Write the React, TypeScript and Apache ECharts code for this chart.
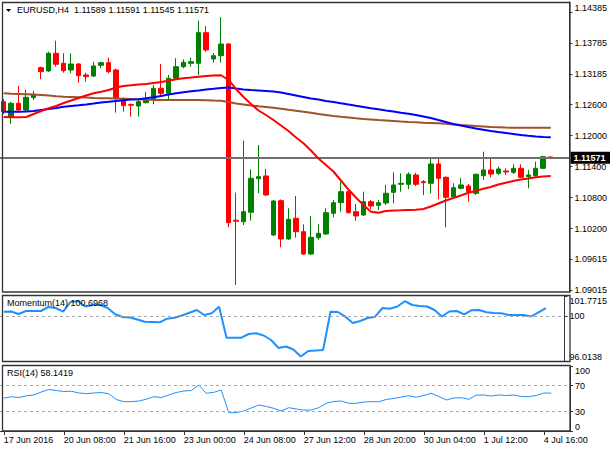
import React, { useEffect, useRef } from "react";
import * as echarts from "echarts";

const symbolName = "EURUSD";
const timeframe = "H4";
const firstTickLabel = "17 Jun 2016";

const categories = [
  "17 Jun 00:00", "17 Jun 04:00", "17 Jun 08:00", "17 Jun 12:00", "17 Jun 16:00", "17 Jun 20:00",
  "20 Jun 00:00", "20 Jun 04:00", "20 Jun 08:00", "20 Jun 12:00", "20 Jun 16:00", "20 Jun 20:00",
  "21 Jun 00:00", "21 Jun 04:00", "21 Jun 08:00", "21 Jun 12:00", "21 Jun 16:00", "21 Jun 20:00",
  "22 Jun 00:00", "22 Jun 04:00", "22 Jun 08:00", "22 Jun 12:00", "22 Jun 16:00", "22 Jun 20:00",
  "23 Jun 00:00", "23 Jun 04:00", "23 Jun 08:00", "23 Jun 12:00", "23 Jun 16:00", "23 Jun 20:00",
  "24 Jun 00:00", "24 Jun 04:00", "24 Jun 08:00", "24 Jun 12:00", "24 Jun 16:00", "24 Jun 20:00",
  "26 Jun 20:00",
  "27 Jun 00:00", "27 Jun 04:00", "27 Jun 08:00", "27 Jun 12:00", "27 Jun 16:00", "27 Jun 20:00",
  "28 Jun 00:00", "28 Jun 04:00", "28 Jun 08:00", "28 Jun 12:00", "28 Jun 16:00", "28 Jun 20:00",
  "29 Jun 00:00", "29 Jun 04:00", "29 Jun 08:00", "29 Jun 12:00", "29 Jun 16:00", "29 Jun 20:00",
  "30 Jun 00:00", "30 Jun 04:00", "30 Jun 08:00", "30 Jun 12:00", "30 Jun 16:00", "30 Jun 20:00",
  "1 Jul 00:00", "1 Jul 04:00", "1 Jul 08:00", "1 Jul 12:00", "1 Jul 16:00", "1 Jul 20:00",
  "3 Jul 20:00",
  "4 Jul 00:00", "4 Jul 04:00", "4 Jul 08:00", "4 Jul 12:00", "4 Jul 16:00", "4 Jul 20:00",
];
// empty slots to the right of the last bar (chart shift)
const rightShiftSlots = ["", ""];

const opens = [
  1.12656, 1.12355, 1.12625, 1.12496, 1.12734, 1.13314, 1.1325, 1.13592, 1.13399, 1.13269,
  1.13385, 1.13173, 1.13153, 1.1336, 1.13411, 1.13269, 1.12703, 1.126, 1.12573, 1.12637,
  1.12703, 1.12915, 1.12819, 1.13109, 1.13333, 1.13399, 1.13399, 1.13991, 1.13482, 1.13546,
  1.13772, 1.10365, 1.10336, 1.10518, 1.11167, 1.1122, 1.10079, 1.10742, 1.10001, 1.10402,
  1.10142, 1.09711, 1.10026, 1.10098, 1.10498, 1.10703, 1.10916, 1.10529, 1.10465, 1.10723,
  1.10653, 1.10697, 1.10904, 1.11059, 1.11059, 1.11239, 1.11109, 1.11078, 1.11452, 1.11194,
  1.10819, 1.10982, 1.11026, 1.10885, 1.11225, 1.11336, 1.11272, 1.11316, 1.11291, 1.11368,
  1.11206, 1.11225, 1.11368, 1.11589,
];
const highs = [
  1.12709, 1.12651, 1.1296, 1.12883, 1.12863, 1.13333, 1.13623, 1.13836, 1.13592, 1.13592,
  1.13405, 1.13217, 1.1343, 1.1343, 1.13507, 1.13298, 1.12738, 1.12622, 1.12722, 1.12844,
  1.12979, 1.13385, 1.13173, 1.13496, 1.13476, 1.13507, 1.14223, 1.1412, 1.13598, 1.14289,
  1.13782, 1.10897, 1.11902, 1.11349, 1.11819, 1.11355, 1.10755, 1.10765, 1.10595, 1.10833,
  1.10286, 1.10446, 1.10286, 1.10595, 1.10755, 1.11109, 1.10968, 1.10678, 1.10916, 1.10755,
  1.10755, 1.11046, 1.11291, 1.11272, 1.11291, 1.11283, 1.11142, 1.11562, 1.11581, 1.1121,
  1.11078, 1.11175, 1.11065, 1.11268, 1.11689, 1.11562, 1.11399, 1.11368, 1.11446, 1.11446,
  1.11336, 1.11496, 1.11612, 1.11591,
];
const lows = [
  1.12419, 1.12225, 1.12438, 1.12457, 1.12689, 1.1309, 1.13231, 1.13333, 1.13217, 1.13206,
  1.13024, 1.13043, 1.13134, 1.13302, 1.13206, 1.12444, 1.12463, 1.12366, 1.12366, 1.12622,
  1.12606, 1.12767, 1.12689, 1.13076, 1.13302, 1.13333, 1.13173, 1.13623, 1.13411, 1.13411,
  1.10228, 1.09112, 1.10272, 1.10355, 1.10885, 1.10833, 1.10059, 1.09841, 1.09982, 1.10026,
  1.09692, 1.09692, 1.09982, 1.10079, 1.10421, 1.10529, 1.10494, 1.10355, 1.10446, 1.10581,
  1.10562, 1.10659, 1.10692, 1.10916, 1.10962, 1.11026, 1.10852, 1.10885, 1.10769, 1.10228,
  1.10804, 1.10962, 1.10723, 1.10852, 1.11142, 1.11194, 1.11239, 1.11239, 1.11258, 1.11181,
  1.10982, 1.1121, 1.11355, 1.11545,
];
const closes = [
  1.12463, 1.12625, 1.12496, 1.12741, 1.12786, 1.13237, 1.13592, 1.1338, 1.13256, 1.13385,
  1.13159, 1.1314, 1.13347, 1.13411, 1.13237, 1.12722, 1.12579, 1.12589, 1.12656, 1.12709,
  1.12915, 1.12819, 1.13109, 1.13333, 1.13418, 1.1343, 1.13991, 1.13656, 1.13546, 1.13772,
  1.10316, 1.10345, 1.10529, 1.11175, 1.11206, 1.10852, 1.10736, 1.10001, 1.10382, 1.10142,
  1.09711, 1.10034, 1.10111, 1.1051, 1.10703, 1.10916, 1.1051, 1.10446, 1.10723, 1.10639,
  1.10703, 1.10885, 1.11046, 1.11078, 1.11252, 1.11059, 1.1109, 1.11452, 1.11175, 1.10808,
  1.10993, 1.11046, 1.10916, 1.11252, 1.11336, 1.11258, 1.11355, 1.11297, 1.11368, 1.11194,
  1.11239, 1.11368, 1.11593, 1.11571,
];

const maRed = [
  1.1236, 1.12355, 1.12355, 1.1236, 1.12418, 1.12476, 1.12529, 1.12573, 1.12631, 1.12679,
  1.12728, 1.12776, 1.12819, 1.1285, 1.12882, 1.12931, 1.1296, 1.12973, 1.12989, 1.12998,
  1.13018, 1.13037, 1.13062, 1.13089, 1.13109, 1.13124, 1.1314, 1.13153, 1.13163, 1.13167,
  1.13076, 1.12902, 1.12747, 1.12612, 1.12486, 1.12399, 1.12302, 1.12196, 1.1209, 1.11964,
  1.11852, 1.11712, 1.11558, 1.11432, 1.11306, 1.11132, 1.10958, 1.10804, 1.10659, 1.10529,
  1.1051, 1.10543, 1.10552, 1.10556, 1.10562, 1.10568, 1.10581, 1.1063, 1.10688, 1.10746,
  1.10794, 1.10842, 1.10896, 1.10929, 1.10974, 1.11007, 1.11055, 1.1109, 1.11123, 1.11152,
  1.11171, 1.11194, 1.1121, 1.11219,
];
const maBlue = [
  1.12463, 1.12463, 1.12463, 1.12467, 1.12476, 1.12496, 1.12515, 1.12534, 1.12557, 1.12573,
  1.12588, 1.12604, 1.12621, 1.12639, 1.12654, 1.1267, 1.12685, 1.12697, 1.12704, 1.12722,
  1.12741, 1.12766, 1.12795, 1.12819, 1.1284, 1.12859, 1.12873, 1.12892, 1.12906, 1.12921,
  1.12931, 1.12911, 1.12892, 1.12882, 1.12873, 1.12863, 1.12853, 1.12834, 1.12805, 1.12776,
  1.12747, 1.12718, 1.12699, 1.1267, 1.1265, 1.12625, 1.12602, 1.12577, 1.12554, 1.1253,
  1.12509, 1.12486, 1.12467, 1.12443, 1.12422, 1.12399, 1.1237, 1.12341, 1.12302, 1.12264,
  1.12225, 1.12196, 1.12167, 1.12138, 1.12115, 1.1209, 1.1207, 1.12051, 1.12032, 1.12012,
  1.11997, 1.11983, 1.11974, 1.11968,
];
const maBrown = [
  1.12819, 1.12811, 1.12805, 1.12799, 1.12793, 1.12786, 1.12776, 1.12763, 1.12753, 1.12747,
  1.12741, 1.12735, 1.12728, 1.12724, 1.12722, 1.12718, 1.12714, 1.12708, 1.12703, 1.12697,
  1.12689, 1.12689, 1.12689, 1.12689, 1.12689, 1.12689, 1.12689, 1.12685, 1.12679, 1.12674,
  1.1265, 1.12621, 1.12602, 1.12583, 1.12567, 1.12554, 1.12538, 1.12519, 1.125, 1.12482,
  1.12463, 1.12442, 1.12418, 1.12399, 1.1238, 1.12364, 1.12351, 1.12335, 1.12322, 1.12312,
  1.12302, 1.12293, 1.12283, 1.12273, 1.12264, 1.12258, 1.1225, 1.12244, 1.12238, 1.12229,
  1.12217, 1.12206, 1.12196, 1.12186, 1.12177, 1.12167, 1.12161, 1.12155, 1.12153, 1.12153,
  1.12153, 1.12153, 1.12153, 1.12153,
];

const momentum = [
  100.381, 100.399, 100.177, 100.443, 100.443, 100.443, 100.797, 100.709, 100.381, 101.24,
  101.329, 100.842, 100.974, 100.974, 100.709, 100.151, 99.912, 99.867, 99.69, 99.495,
  99.469, 99.442, 99.761, 99.85, 100.044, 100.292, 100.532, 100.089, 100.239, 100.824,
  98.078, 98.078, 98.078, 98.406, 98.468, 98.273, 97.874, 97.166, 97.299, 97.033,
  96.413, 96.9, 96.944, 96.989, 100.381, 100.354, 99.938, 99.38, 99.557, 99.823,
  99.938, 100.709, 100.647, 100.842, 101.311, 100.974, 100.886, 100.842, 100.532, 99.956,
  100.399, 100.443, 100.151, 100.514, 100.532, 100.337, 100.266, 100.239, 100.089, 100.089,
  100.089, 99.956, 100.328, 100.6968,
];
const rsi = [
  50.5, 52.8, 51.5, 54.2, 55.4, 60.0, 63.8, 62.3, 60.8, 61.2,
  58.5, 57.4, 58.5, 59.2, 57.4, 48.5, 45.1, 45.1, 46.2, 48.8,
  52.8, 51.5, 55.4, 59.2, 61.5, 62.3, 70.8, 58.0, 59.5, 63.1,
  28.2, 28.2, 30.8, 35.4, 40.0, 37.7, 34.9, 30.8, 35.9, 33.8,
  32.3, 32.3, 35.9, 42.6, 45.4, 46.2, 42.6, 42.6, 44.6, 45.1,
  45.1, 48.5, 50.0, 52.3, 54.3, 52.0, 54.6, 58.0, 53.1, 47.7,
  50.8, 51.2, 48.8, 55.1, 55.4, 53.8, 55.4, 54.6, 55.4, 53.1,
  52.8, 54.6, 58.5, 58.1419,
];

const priceTicks = [1.14385, 1.13785, 1.13185, 1.126, 1.12, 1.114, 1.108, 1.102, 1.09615, 1.09015];
const momentumTicks = [96.0138, 100, 101.7715];
const momentumLevels = [100];
const rsiTicks = [0, 30, 70, 100];
const rsiLevels = [30, 70];

const FONT = "'Liberation Sans', Arial, sans-serif";

export default function App() {
  const ref = useRef<HTMLDivElement>(null);

  useEffect(() => {
    document.body.style.margin = "0";
    const chart = echarts.init(ref.current!, null, { renderer: "svg" });
    const cats = [...categories, ...rightShiftSlots];
    const last = opens.length - 1;
    const lastClose = closes[last];
    const fmt5 = (v: number) => v.toFixed(5);

    const hiddenX = (gi: number) => ({
      type: "category",
      gridIndex: gi,
      data: cats,
      boundaryGap: true,
      axisLine: { show: false },
      axisTick: { show: false },
      axisLabel: { show: false },
      splitLine: { show: false },
    });

    const rightY = (
      gi: number,
      min: number,
      max: number,
      ticks: number[],
      fmt: (v: number) => string,
      minAlign: string,
      maxAlign: string
    ) => ({
      type: "value",
      gridIndex: gi,
      position: "right",
      min,
      max,
      axisLine: { show: true, lineStyle: { color: "#333", width: 1 } },
      axisTick: { show: true, length: 3, customValues: ticks, lineStyle: { color: "#333" } },
      axisLabel: {
        customValues: ticks,
        formatter: (v: number) => fmt(v),
        fontSize: 9,
        color: "#000",
        margin: 5,
        fontFamily: FONT,
        verticalAlignMinLabel: minAlign,
        verticalAlignMaxLabel: maxAlign,
      },
      splitLine: { show: false },
    });

    const levelLine = (levels: number[]) => ({
      symbol: ["none", "none"],
      silent: true,
      animation: false,
      precision: 4,
      label: { show: false },
      lineStyle: { color: "#a8a8a8", width: 1, type: [3, 3] },
      data: levels.map((v) => ({ yAxis: v })),
    });

    const border = (x: number, y: number, w: number, h: number) => ({
      type: "rect",
      silent: true,
      z: 100,
      shape: { x, y, width: w, height: h },
      style: { fill: "none", stroke: "#333", lineWidth: 1.3 },
    });

    chart.setOption({
      animation: false,
      backgroundColor: "#fff",
      textStyle: { fontFamily: FONT },
      title: [
        {
          text: `${symbolName},${timeframe}  ${fmt5(opens[last])} ${fmt5(highs[last])} ${fmt5(lows[last])} ${fmt5(lastClose)}`,
          left: 17,
          top: 5,
          padding: 0,
          textStyle: { fontSize: 9, fontWeight: "normal", color: "#000", fontFamily: FONT },
        },
        {
          text: `Momentum(14) ${momentum[last].toFixed(4)}`,
          left: 7,
          top: 298,
          padding: 0,
          textStyle: { fontSize: 9, fontWeight: "normal", color: "#000", fontFamily: FONT },
        },
        {
          text: `RSI(14) ${rsi[last].toFixed(4)}`,
          left: 7,
          top: 368,
          padding: 0,
          textStyle: { fontSize: 9, fontWeight: "normal", color: "#000", fontFamily: FONT },
        },
      ],
      graphic: [
        { type: "polygon", silent: true, shape: { points: [[6, 9], [11, 9], [8.5, 12]] }, style: { fill: "#000" } },
        border(2.5, 2.5, 567.5, 289.5),
        border(2.5, 295.5, 567.5, 66),
        border(2.5, 365.5, 567.5, 65.5),
      ],
      grid: [
        { left: 0, top: 2, width: 570, height: 290 },
        { left: 0, top: 296, width: 570, height: 65 },
        { left: 0, top: 366, width: 570, height: 65 },
      ],
      xAxis: [
        hiddenX(0),
        hiddenX(1),
        {
          type: "category",
          gridIndex: 2,
          data: cats,
          boundaryGap: true,
          axisLine: { show: true, lineStyle: { color: "#333" } },
          axisTick: { show: true, interval: 7, alignWithLabel: true, length: 4, lineStyle: { color: "#333" } },
          axisLabel: {
            interval: 7,
            align: "left",
            fontSize: 9,
            color: "#000",
            margin: 4,
            fontFamily: FONT,
            hideOverlap: false,
            formatter: (v: string, i: number) => (i === 0 ? firstTickLabel : v),
          },
          splitLine: { show: false },
        },
      ],
      yAxis: [
        rightY(0, 1.08976, 1.14584, priceTicks, (v) => v.toFixed(5), "bottom", "middle"),
        rightY(1, 96.0138, 101.7715, momentumTicks, (v) => (v === 100 ? "100" : v.toFixed(4)), "bottom", "top"),
        rightY(2, 0, 100, rsiTicks, (v) => String(v), "bottom", "top"),
      ],
      series: [
        {
          name: symbolName,
          type: "candlestick",
          xAxisIndex: 0,
          yAxisIndex: 0,
          barWidth: 5,
          z: 2,
          data: opens.map((o, i) => [o, closes[i], lows[i], highs[i]]),
          itemStyle: {
            color: "#008000",
            color0: "#ff0000",
            borderColor: "#008000",
            borderColor0: "#ff0000",
            borderWidth: 1,
          },
        },
        {
          name: "MA brown",
          type: "line",
          xAxisIndex: 0,
          yAxisIndex: 0,
          data: maBrown,
          symbol: "none",
          z: 3,
          lineStyle: { color: "#a0522d", width: 2 },
        },
        {
          name: "MA blue",
          type: "line",
          xAxisIndex: 0,
          yAxisIndex: 0,
          data: maBlue,
          symbol: "none",
          z: 4,
          lineStyle: { color: "#0000ff", width: 2 },
        },
        {
          name: "MA red",
          type: "line",
          xAxisIndex: 0,
          yAxisIndex: 0,
          data: maRed,
          symbol: "none",
          z: 5,
          lineStyle: { color: "#ff0000", width: 2 },
          markLine: {
            symbol: ["none", "none"],
            silent: true,
            precision: 5,
            lineStyle: { color: "#707070", width: 2, type: "solid" },
            label: {
              show: true,
              position: "end",
              distance: 1,
              formatter: fmt5(lastClose),
              backgroundColor: "#000",
              color: "#fff",
              fontSize: 9,
              fontWeight: "bold",
              fontFamily: FONT,
              padding: [2, 5, 1, 3],
            },
            data: [{ yAxis: lastClose }],
          },
        },
        {
          name: "Momentum(14)",
          type: "line",
          xAxisIndex: 1,
          yAxisIndex: 1,
          data: momentum,
          symbol: "none",
          lineStyle: { color: "#1e90ff", width: 2 },
          markLine: levelLine(momentumLevels),
        },
        {
          name: "RSI(14)",
          type: "line",
          xAxisIndex: 2,
          yAxisIndex: 2,
          data: rsi,
          symbol: "none",
          lineStyle: { color: "#1e90ff", width: 1 },
          markLine: levelLine(rsiLevels),
        },
      ],
    });

    return () => {
      chart.dispose();
    };
  }, []);

  return (
    <div
      ref={ref}
      style={{ position: "absolute", left: 0, top: 0, width: 610, height: 450, background: "#fff" }}
    />
  );
}
